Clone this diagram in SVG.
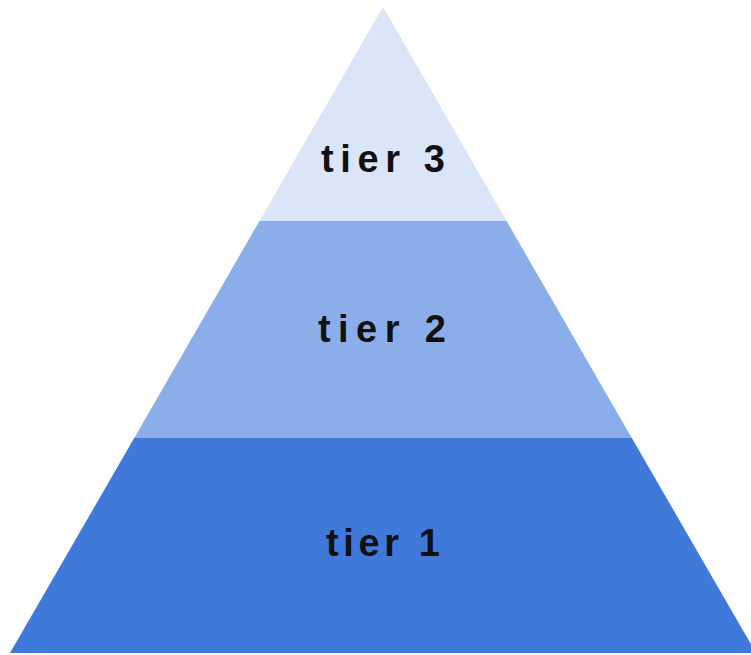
<svg xmlns="http://www.w3.org/2000/svg" width="751" height="655" viewBox="0 0 751 655">
<style>
.lbl{font-family:"Liberation Sans","DejaVu Sans",sans-serif;font-size:38px;font-weight:bold;fill:#111;text-anchor:middle;}
</style>
<rect width="751" height="655" fill="#ffffff"/>
<g id="tier3">
<polygon points="383,7 506.5,221 259.5,221" fill="#dae5f7"/>
<text class="lbl" x="383" y="172" textLength="124" lengthAdjust="spacing">tier 3</text>
</g>
<g id="tier2">
<polygon points="259.5,221 506.5,221 631.8,438 134.2,438" fill="#8badea"/>
<text class="lbl" x="382" y="342" textLength="128" lengthAdjust="spacing">tier 2</text>
</g>
<g id="tier1">
<polygon points="134.2,438 631.8,438 756,653 10,653" fill="#3f7ada"/>
<text class="lbl" x="383" y="556" textLength="114" lengthAdjust="spacing">tier 1</text>
</g>
<g id="connectors"></g>
</svg>
